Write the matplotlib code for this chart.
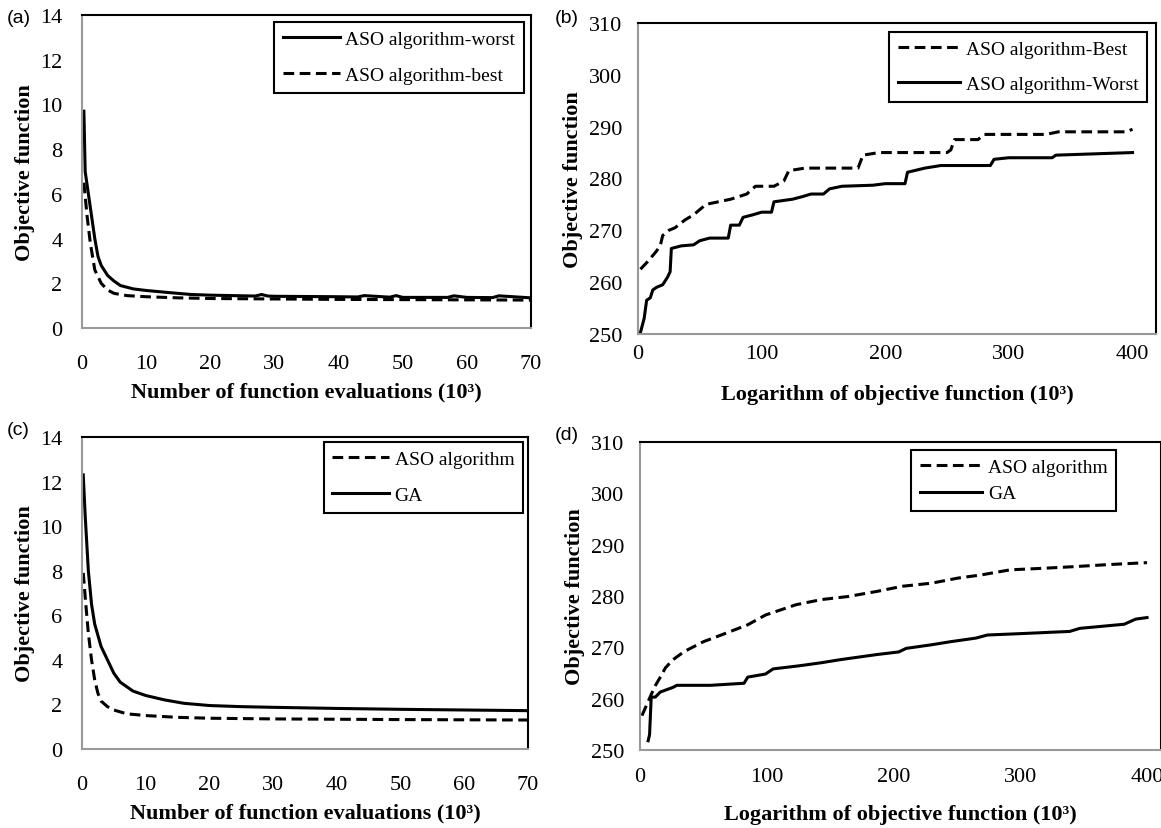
import matplotlib.pyplot as plt

# fonts: Times-like for the chart, Arial-like for panel letters
plt.rcParams['font.family'] = ['Liberation Serif', 'DejaVu Serif']

# ---- data ----
# (a) objective vs function evaluations (10^3)
a_worst_x = [0.3, 0.5, 1, 1.5, 2, 2.5, 3, 4, 5, 6, 8, 10, 13, 17, 20, 27, 28, 29, 30, 40,
             43, 44, 48, 49, 50, 57, 58, 60, 64, 65, 70]
a_worst_y = [9.7, 7.0, 6.0, 5.0, 4.0, 3.2, 2.8, 2.35, 2.1, 1.9, 1.75, 1.68, 1.6, 1.5, 1.47, 1.43, 1.5,
             1.43, 1.42, 1.4, 1.39, 1.45, 1.38, 1.45, 1.37, 1.37, 1.44, 1.37, 1.36, 1.44, 1.35]
a_best_x = [0.3, 0.8, 1.3, 2, 3, 4, 5, 7, 10, 15, 20, 40, 70]
a_best_y = [6.5, 5.0, 3.8, 2.6, 2.0, 1.7, 1.55, 1.45, 1.4, 1.35, 1.32, 1.28, 1.25]

# (b) step-like convergence
b_best_x = [2, 8, 15, 18, 20, 25, 30, 38, 45, 55, 65, 75, 88, 95, 110, 118, 122, 135, 178, 182,
            195, 250, 253, 256, 275, 280, 330, 340, 395, 400]
b_best_y = [262.5, 264, 266, 267, 269, 270, 270.5, 272, 273, 275, 275.5, 276, 277, 278.5, 278.5,
            279.5, 281.5, 282, 282, 284.5, 285, 285, 285.5, 287.5, 287.5, 288.5, 288.5, 289, 289, 289.5]
b_worst_x = [2, 5, 7, 10, 12, 15, 20, 24, 26, 27, 35, 45, 50, 58, 73, 75, 82, 85, 93, 100, 108,
             110, 125, 133, 140, 150, 155, 165, 190, 200, 216, 218, 232, 245, 285, 288, 300, 335,
             338, 400]
b_worst_y = [250.3, 253, 256.5, 257, 258.5, 259, 259.5, 261, 262, 266.5, 267, 267.2, 268, 268.5,
             268.5, 271, 271, 272.5, 273, 273.5, 273.5, 275.5, 276, 276.5, 277, 277, 278, 278.5,
             278.7, 279, 279, 281.2, 282, 282.5, 282.5, 283.7, 284, 284, 284.5, 285]

# (c) ASO vs GA
c_aso_x = [0.2, 0.6, 1, 1.5, 2, 2.5, 3, 4, 5, 7, 10, 15, 20, 30, 50, 70]
c_aso_y = [7.9, 6.5, 5.2, 4.0, 3.1, 2.5, 2.15, 1.9, 1.75, 1.58, 1.5, 1.42, 1.38, 1.35, 1.32, 1.3]
c_ga_x = [0.2, 0.5, 1, 1.5, 2, 3, 4, 5, 6, 8, 10, 13, 16, 20, 25, 30, 40, 50, 60, 70]
c_ga_y = [12.3, 10.5, 8.0, 6.5, 5.6, 4.6, 4.0, 3.4, 3.0, 2.6, 2.4, 2.2, 2.05, 1.95, 1.9, 1.87,
          1.82, 1.78, 1.75, 1.72]

# (d) ASO vs GA
d_aso_x = [1.5, 7, 11.7, 16, 20, 26, 35, 50, 64, 85, 99, 123, 143, 164, 187, 207, 230, 251, 269,
           292, 318, 341, 368, 400]
d_aso_y = [256.7, 259.8, 262.4, 264.2, 266, 267.6, 269.2, 271.1, 272.4, 274.4, 276.3, 278.3, 279.3,
           279.9, 280.9, 281.9, 282.5, 283.5, 284.1, 285.1, 285.4, 285.7, 286.1, 286.5]
d_ga_x = [6.4, 7.5, 8.8, 12, 16, 26, 29, 55.5, 82, 85, 99, 105, 125.5, 143, 158, 187, 204, 210,
          230, 245, 265, 274, 303, 339, 347, 382, 391, 400]
d_ga_y = [251.8, 253, 260.3, 260.3, 261.3, 262.2, 262.6, 262.6, 263, 264.2, 264.8, 265.8, 266.4,
          267, 267.6, 268.6, 269.1, 269.8, 270.5, 271.1, 271.8, 272.4, 272.7, 273.1, 273.7, 274.5,
          275.5, 275.8]

xlabel_eval = "Number of function evaluations (10³)"
xlabel_log = "Logarithm of objective function (10³)"
ylabel = "Objective function"

fig = plt.figure(figsize=(11.61, 8.29), dpi=100)

# axes placed to follow the original layout
ax_a = fig.add_axes([0.0706, 0.6031, 0.3867, 0.3776])
ax_b = fig.add_axes([0.5495, 0.5959, 0.4462, 0.3752])
ax_c = fig.add_axes([0.0706, 0.0953, 0.3842, 0.3764])
ax_d = fig.add_axes([0.5513, 0.0941, 0.4487, 0.3715])

dash = (0, (3.5, 1.8))
lw = 2.2

ax_a.plot(a_worst_x, a_worst_y, color='black', lw=lw, label='ASO algorithm-worst')
ax_a.plot(a_best_x, a_best_y, color='black', lw=lw, ls=dash, label='ASO algorithm-best')

ax_b.plot(b_best_x, b_best_y, color='black', lw=lw, ls=dash, label='ASO algorithm-Best')
ax_b.plot(b_worst_x, b_worst_y, color='black', lw=lw, label='ASO algorithm-Worst')

ax_c.plot(c_aso_x, c_aso_y, color='black', lw=lw, ls=dash, label='ASO algorithm')
ax_c.plot(c_ga_x, c_ga_y, color='black', lw=lw, label='GA')

ax_d.plot(d_aso_x, d_aso_y, color='black', lw=lw, ls=dash, label='ASO algorithm')
ax_d.plot(d_ga_x, d_ga_y, color='black', lw=lw, label='GA')

for ax in (ax_a, ax_c):
    ax.set_xlim(0, 70)
    ax.set_ylim(0, 14)
    ax.set_xticks(range(0, 71, 10))
    ax.set_yticks(range(0, 15, 2))
    ax.set_xlabel(xlabel_eval, fontsize=16, fontweight='bold', labelpad=6)
    ax.tick_params(axis='y', pad=14)
    ax.tick_params(axis='x', pad=19)

ax_b.set_xlim(0, 419)
ax_d.set_xlim(0, 411)
for ax in (ax_b, ax_d):
    ax.set_ylim(250, 310)
    ax.set_xticks(range(0, 401, 100))
    ax.set_yticks(range(250, 311, 10))
    ax.tick_params(axis='y', pad=11.5)
ax_b.tick_params(axis='x', pad=7)
ax_b.set_xlabel(xlabel_log, fontsize=16, fontweight='bold', labelpad=15)
ax_d.tick_params(axis='x', pad=12)
ax_d.set_xlabel(xlabel_log, fontsize=16, fontweight='bold', labelpad=13)

for ax in (ax_a, ax_b, ax_c, ax_d):
    ax.set_ylabel(ylabel, fontsize=16, fontweight='bold', labelpad=4)
    ax.tick_params(length=0, labelsize=16)
    for side in ('top', 'right'):
        ax.spines[side].set_color('black')
        ax.spines[side].set_linewidth(1.5)
    for side in ('left', 'bottom'):
        ax.spines[side].set_color('#999999')
        ax.spines[side].set_linewidth(1.5)

leg_kw = dict(fancybox=False, edgecolor='black', framealpha=1, fontsize=14,
              handletextpad=0.3, borderpad=0.45)
legends = [
    ax_a.legend(loc='upper right', labelspacing=0.95, borderaxespad=0.35, handlelength=2.9, **leg_kw),
    ax_b.legend(loc='upper right', labelspacing=0.9, borderaxespad=0.45, handlelength=3.2, **leg_kw),
    ax_c.legend(loc='upper right', labelspacing=0.95, borderaxespad=0.25, handlelength=2.9, **leg_kw),
    ax_d.legend(loc='upper left', bbox_to_anchor=(0.52, 0.975), labelspacing=0.45,
                borderaxespad=0.0, handlelength=3.2, **leg_kw),
]
for leg in legends:
    leg.get_frame().set_linewidth(1.5)

# panel letters
for lab, (x, y) in zip(['(a)', '(b)', '(c)', '(d)'],
                       [(0.006, 0.978), (0.478, 0.978), (0.006, 0.481), (0.478, 0.475)]):
    fig.text(x, y, lab, fontsize=14, family=['Liberation Sans', 'DejaVu Sans'], va='center')

plt.savefig('out.png', dpi=100)
plt.close()
